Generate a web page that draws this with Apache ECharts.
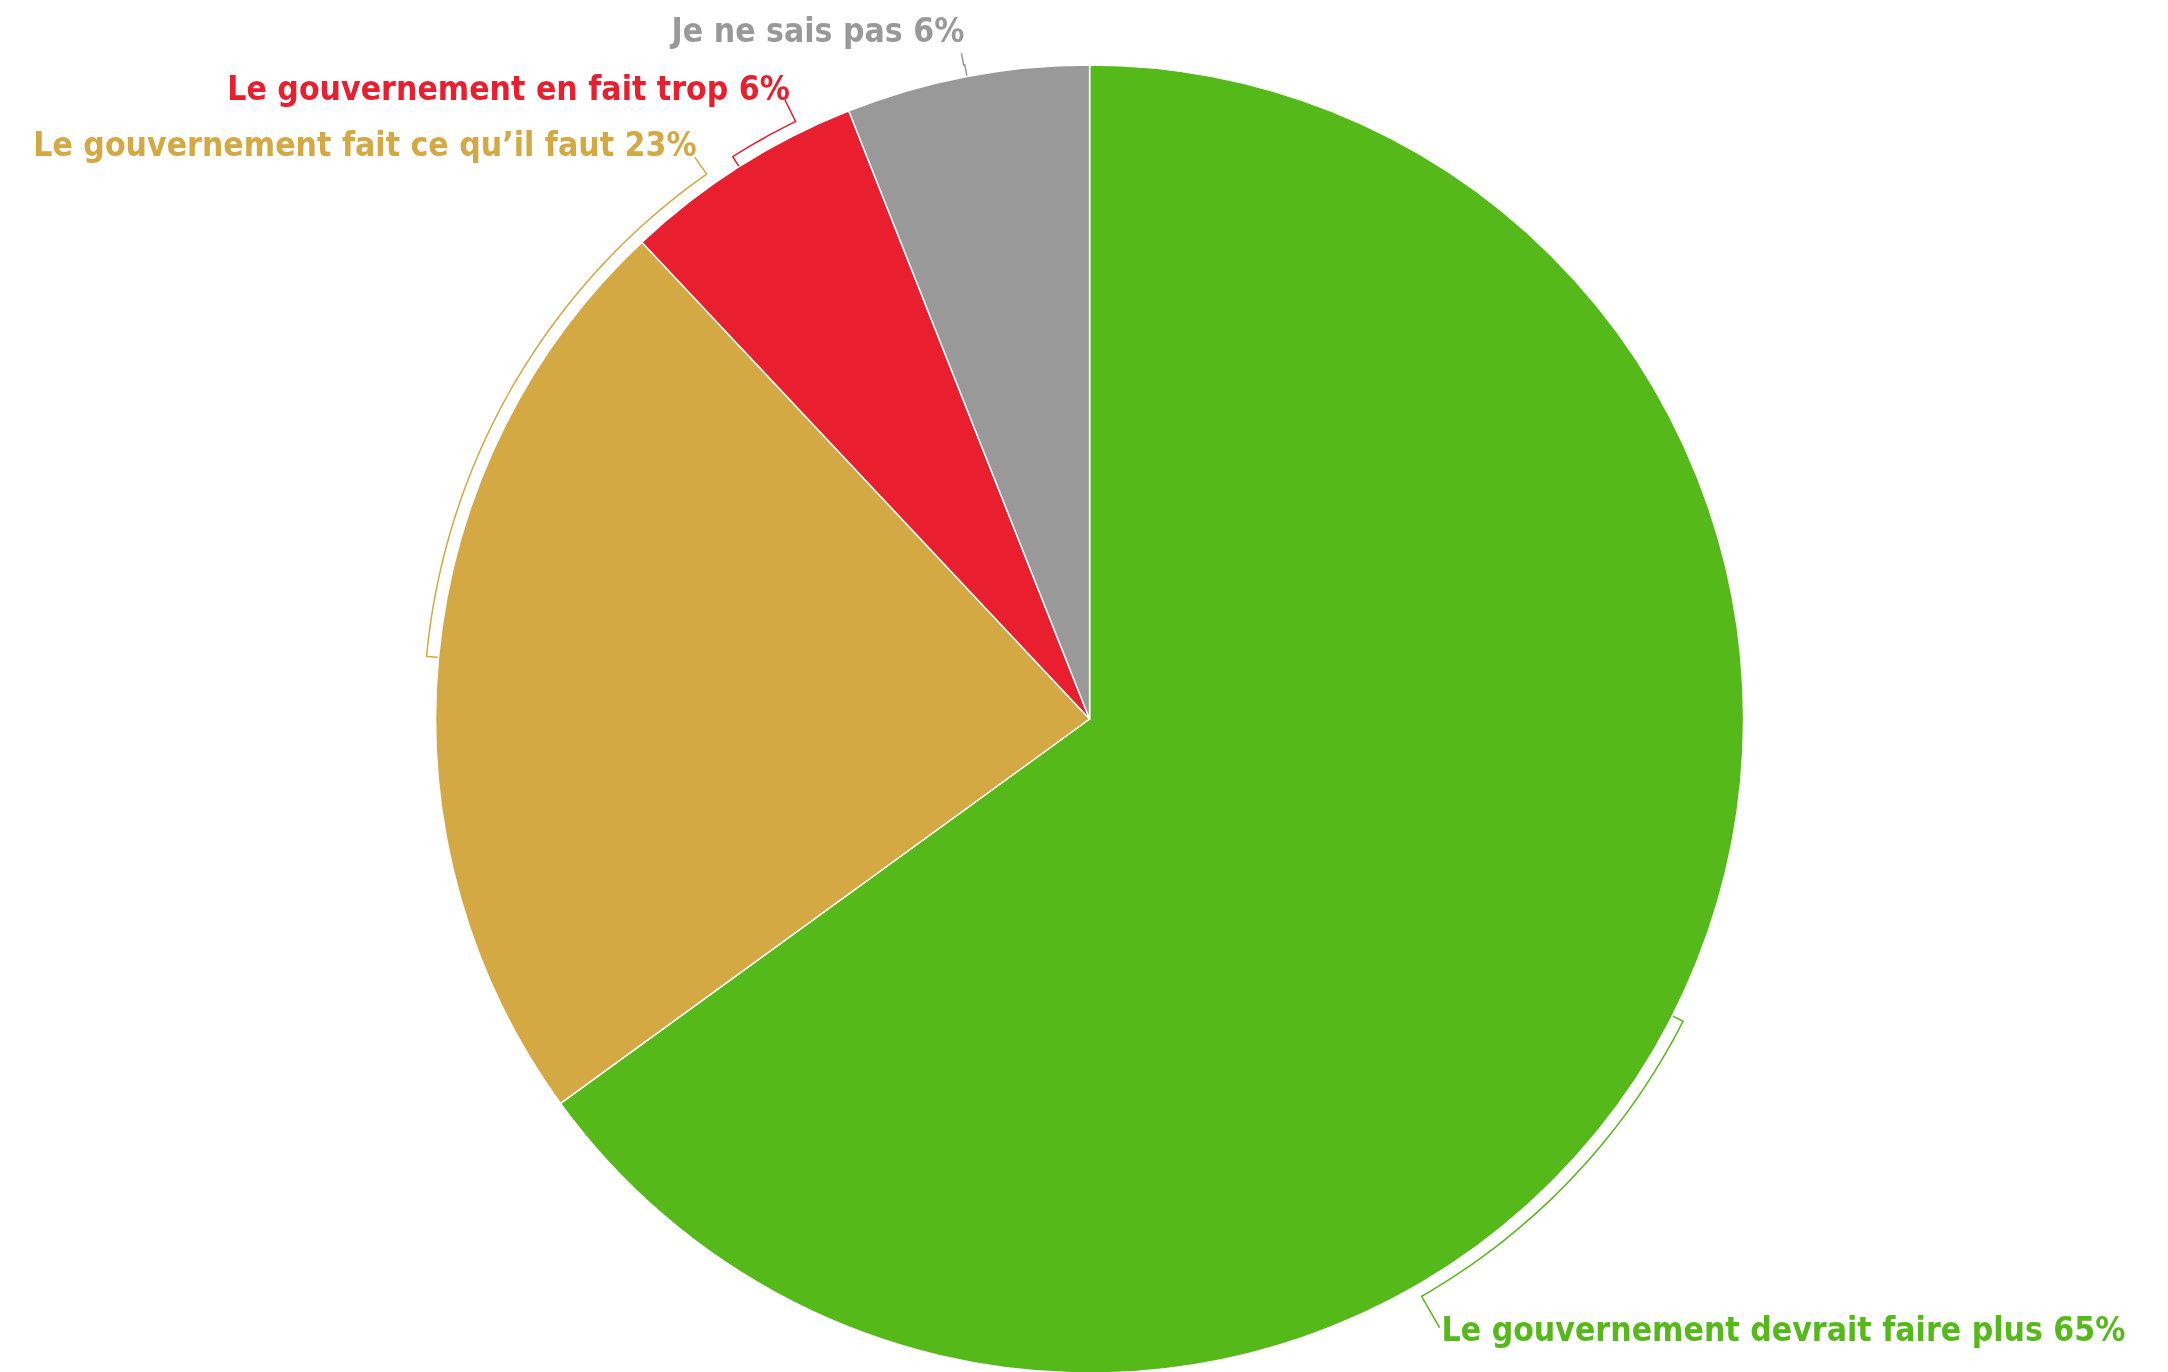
<!DOCTYPE html>
<html><head><meta charset="utf-8">
<script src="https://cdn.jsdelivr.net/npm/echarts@6/dist/echarts.min.js"></script>
<style>html,body{margin:0;padding:0;background:#fff}#chart{width:2168px;height:1372px}</style>
</head><body><div id="chart"></div>
<script>
// ---- data ----
const categories = ["Le gouvernement devrait faire plus", "Le gouvernement fait ce qu’il faut", "Le gouvernement en fait trop", "Je ne sais pas"];
const values = [65, 23, 6, 6];
const colors = ['#55b91a', '#d4a843', '#e91e2e', '#999999'];

// ---- layout (style, not data) ----
const CX = 1089.6, CY = 719, R = 654, GAP = 12;
const FONT_FAMILY = '"DejaVu Sans Condensed", "Liberation Sans Narrow", Roboto, sans-serif';
const FONT_WEIGHT = 'bold';
const GREEN_LABEL_WIDTH = 684; // width of the longest label in the reference
// where each leader line ends (angle clockwise from 12 o'clock, radius) and label offset from that end
const leaderEnds = [
  { angle: 150.1, r: 702, dx: 2, dy: 5, align: 'left' },
  { angle: 324.9, r: 687, dx: 2, dy: -10, align: 'right' },
  { angle: 333.8, r: 690, dx: 5, dy: -9, align: 'right' },
  { angle: 349.1, r: 678, dx: 3, dy: -20, align: 'right' }
];

const labelText = (i) => categories[i] + ' ' + values[i] + '%';

// fit font size so the longest label has the reference width
const ctx = document.createElement('canvas').getContext('2d');
ctx.font = FONT_WEIGHT + ' 100px ' + FONT_FAMILY;
const FONT_SIZE = Math.min(54, 100 * GREEN_LABEL_WIDTH / ctx.measureText(labelText(0)).width);

const total = values.reduce((a, b) => a + b, 0);
const midAngles = [];
let acc = 0;
values.forEach(v => { midAngles.push((acc + v / 2) / total * 360); acc += v; });

function pt(deg, r) {
  const a = deg * Math.PI / 180;
  return [CX + r * Math.sin(a), CY - r * Math.cos(a)];
}

const chart = echarts.init(document.getElementById('chart'), null, { renderer: 'canvas' });
chart.setOption({
  animation: false,
  backgroundColor: '#ffffff',
  series: [{
    type: 'pie',
    center: [CX, CY],
    radius: R,
    startAngle: 90,
    clockwise: true,
    avoidLabelOverlap: false,
    data: categories.map((c, i) => ({
      name: c, value: values[i],
      itemStyle: { color: colors[i] },
      label: { color: colors[i] }
    })),
    itemStyle: { borderColor: '#ffffff', borderWidth: 1.5 },
    label: {
      show: true,
      position: 'outside',
      overflow: 'none',
      formatter: '{b} {c}%',
      fontFamily: FONT_FAMILY,
      fontWeight: FONT_WEIGHT,
      fontSize: FONT_SIZE
    },
    labelLine: { show: true, smooth: false, lineStyle: { width: 1.5 } },
    emphasis: { disabled: true },
    labelLayout: function (p) {
      const i = p.dataIndex;
      const e = leaderEnds[i];
      const mid = midAngles[i];
      const pts = [pt(mid, R), pt(mid, R + GAP)];
      const steps = Math.max(1, Math.ceil(Math.abs(e.angle - mid)));
      for (let k = 1; k <= steps; k++) {
        pts.push(pt(mid + (e.angle - mid) * k / steps, R + GAP));
      }
      const end = pt(e.angle, e.r);
      pts.push(end);
      return {
        x: end[0] + e.dx,
        y: end[1] + e.dy,
        align: e.align,
        verticalAlign: 'middle',
        labelLinePoints: pts
      };
    }
  }]
});
</script></body></html>
